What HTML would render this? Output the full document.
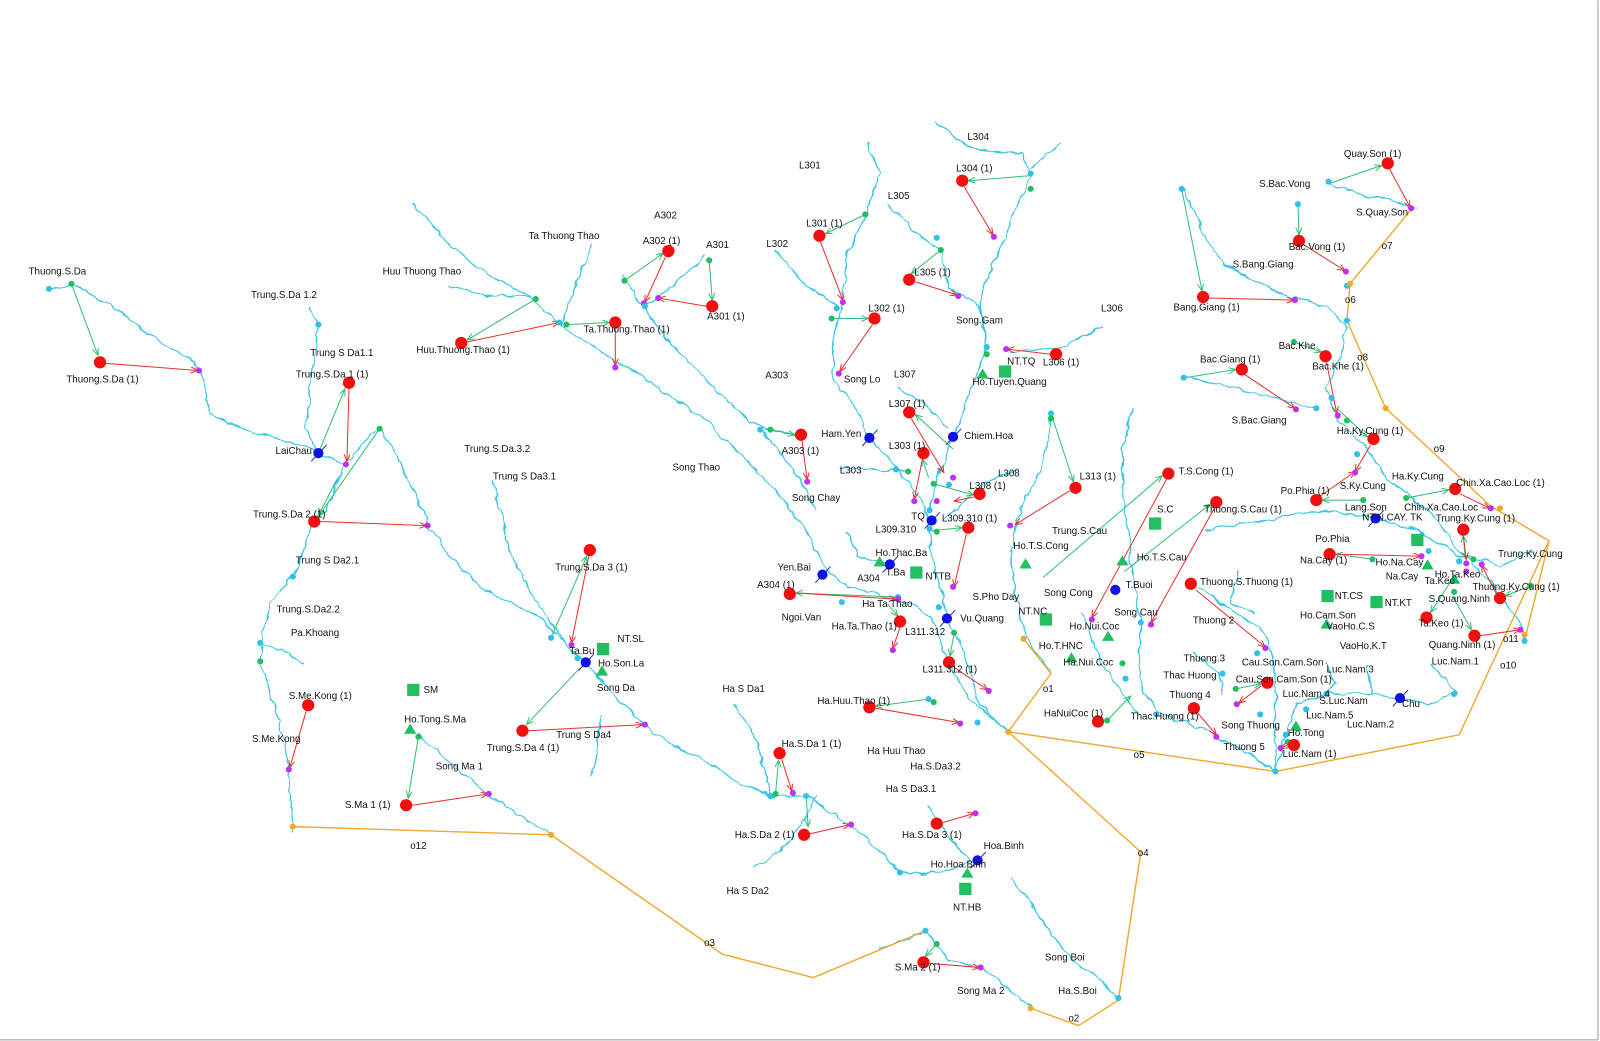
<!DOCTYPE html>
<html><head><meta charset="utf-8"><style>
html,body{margin:0;padding:0;background:#fff;width:1600px;height:1041px;overflow:hidden}
svg{display:block}
text{font-family:"Liberation Sans","DejaVu Sans",sans-serif;font-size:9.6px;fill:#111}
.rv{fill:none;stroke:#3cc6e4;stroke-width:1.3}
.or{fill:none;stroke:#f0a830;stroke-width:1.4}
.ra{stroke:#e83030;stroke-width:1;fill:none;marker-end:url(#mr)}
.ga{stroke:#30c070;stroke-width:1;fill:none;marker-end:url(#mg)}
.r{fill:#f01010}
.b{fill:#1010e8}
.p{fill:#c030f0}
.g{fill:#20c060}
.c{fill:#30c0e8}
.sq{fill:#20c060}
</style></head><body>
<svg width="1600" height="1041" viewBox="0 0 1568 1020" xmlns="http://www.w3.org/2000/svg">
<defs>
<marker id="mr" markerWidth="8" markerHeight="8" refX="7" refY="3" orient="auto"><path d="M0,0 L7,3 L0,6" fill="none" stroke="#e83030"/></marker>
<marker id="mg" markerWidth="8" markerHeight="8" refX="7" refY="3" orient="auto"><path d="M0,0 L7,3 L0,6" fill="none" stroke="#30c070"/></marker>
<filter id="wig" x="-5%" y="-5%" width="110%" height="110%"><feTurbulence type="fractalNoise" baseFrequency="0.09" numOctaves="2" seed="3"/><feDisplacementMap in="SourceGraphic" scale="7" xChannelSelector="R" yChannelSelector="G"/></filter>
</defs>
<line x1="1566" y1="0" x2="1566" y2="1019" stroke="#999"/>
<line x1="0" y1="1019" x2="1566" y2="1019" stroke="#999"/>

<!-- rivers -->
<g class="rv" filter="url(#wig)">
<polyline points="48,283 70,278 110,300 150,330 190,355 200,370 205,405 250,425 290,435 312,444 338,455 360,430 372,420 390,450 405,480 420,515 440,545 470,575 500,590 530,605 557,634 574,649 600,680 632,711 660,730 690,745 720,765 755,780 790,780 820,800 850,822 882,855 920,855 958,843"/>
<polyline points="304,300 312,320 305,370 300,420 312,444"/>
<polyline points="338,455 320,500 308,511 295,545 287,565 265,590 258,620 255,648 268,690 280,730 287,815"/>
<polyline points="255,630 280,640 298,650"/>
<polyline points="483,470 490,500 500,540 520,580 540,610 557,634"/>
<polyline points="590,700 585,730 580,760"/>
<polyline points="410,720 440,745 480,780 520,805 540,818"/>
<polyline points="405,200 440,240 480,270 520,290 550,320 590,345 630,370 690,410 720,440 760,480 790,520 810,560 830,575 870,585 900,595 912,605 930,650 950,685 988,717"/>
<polyline points="440,280 480,290 520,290"/>
<polyline points="580,240 560,290 550,320"/>
<polyline points="610,270 630,300 660,340 700,380 730,410 750,420 785,426"/>
<polyline points="690,250 660,280 632,300"/>
<polyline points="850,140 862,170 848,210 830,250 825,300 818,330 815,370 840,400 852,429 880,460 905,490 910,510 912,540 920,570 928,606 945,640 960,690 988,717"/>
<polyline points="760,245 790,280 820,300"/>
<polyline points="870,200 900,230 922,245 930,280 960,300 967,340"/>
<polyline points="917,120 950,145 1000,150 1010,170 990,220 960,290 967,340 945,400 934,428 918,470 910,500"/>
<polyline points="1040,140 1010,165"/>
<polyline points="1080,320 1040,340 990,345"/>
<polyline points="880,380 905,395 930,420"/>
<polyline points="823,458 860,460 890,462"/>
<polyline points="1000,460 970,470 945,490 925,510"/>
<polyline points="745,420 770,450 790,480 800,500"/>
<polyline points="1030,410 1020,460 1000,500 990,540 995,580 1005,625 1030,660"/>
<polyline points="1110,400 1100,440 1100,480 1105,520 1110,560 1118,610 1115,640 1120,680 1140,700 1180,715 1210,730 1250,756"/>
<polyline points="1060,600 1080,650 1100,680 1115,700"/>
<polyline points="1175,575 1210,600 1240,620 1250,660 1250,700 1250,756"/>
<polyline points="1430,678 1400,690 1372,684 1340,680 1300,680 1270,690 1260,720 1250,756"/>
<polyline points="1160,185 1180,230 1200,260 1260,290 1300,300 1320,320 1310,360 1300,380 1310,410 1340,440 1360,470 1400,500 1430,540 1460,570 1490,610 1494,628"/>
<polyline points="1300,178 1330,190 1360,195 1390,205"/>
<polyline points="1160,370 1210,380 1250,390 1290,400"/>
<polyline points="1180,520 1240,510 1300,500 1348,508 1390,520 1430,545 1460,550"/>
<polyline points="720,690 740,720 755,780"/>
<polyline points="740,850 770,830 790,800 800,780"/>
<polyline points="910,790 930,820 950,843"/>
<polyline points="990,860 1020,900 1050,940 1080,960 1096,980"/>
<polyline points="860,930 890,920 907,912 930,940 965,950 990,970 1010,987"/>
<polyline points="830,520 840,545 872,553"/>
<polyline points="1215,560 1205,590 1230,600"/>
<polyline points="1300,650 1310,670 1300,680"/>
<polyline points="1340,650 1345,680"/>
<polyline points="1170,640 1195,660 1198,680"/>
<polyline points="1400,650 1420,670 1430,678"/>
<polyline points="1500,540 1470,555 1460,550"/>
</g>

<!-- orange links -->
<g class="or">
<polyline points="287,810 540,818 708,935 797,958 907,912"/>
<polyline points="988,717 1118,835 1096,980 1057,1005 1010,988"/>
<polyline points="988,717 1030,660 1003,626"/>
<polyline points="988,717 1250,756 1430,720 1518,530 1461,496 1358,400 1320,314 1323,278 1383,205"/>
<polyline points="1494,628 1518,530"/>
</g>

<!-- arrows -->
<g>
<line class="ga" x1="70" y1="278" x2="96" y2="348"/><line class="ra" x1="104" y1="356" x2="194" y2="363"/>
<line class="ga" x1="312" y1="444" x2="338" y2="381"/><line class="ra" x1="342" y1="381" x2="340" y2="452"/>
<line class="ga" x1="372" y1="420" x2="312" y2="506"/><line class="ra" x1="314" y1="511" x2="418" y2="515"/>
<line class="ga" x1="525" y1="293" x2="458" y2="333"/><line class="ra" x1="458" y1="335" x2="548" y2="316"/>
<line class="ga" x1="555" y1="318" x2="597" y2="316"/><line class="ra" x1="603" y1="322" x2="603" y2="358"/>
<line class="ga" x1="612" y1="275" x2="650" y2="248"/><line class="ra" x1="652" y1="252" x2="632" y2="296"/>
<line class="ga" x1="695" y1="255" x2="698" y2="294"/><line class="ra" x1="692" y1="300" x2="645" y2="292"/>
<line class="ga" x1="848" y1="210" x2="809" y2="229"/><line class="ra" x1="804" y1="237" x2="826" y2="294"/>
<line class="ga" x1="1010" y1="172" x2="949" y2="177"/><line class="ra" x1="945" y1="183" x2="973" y2="230"/>
<line class="ga" x1="922" y1="245" x2="893" y2="268"/><line class="ra" x1="897" y1="276" x2="938" y2="289"/>
<line class="ga" x1="815" y1="312" x2="851" y2="312"/><line class="ra" x1="855" y1="318" x2="823" y2="364"/>
<line class="ra" x1="1029" y1="347" x2="987" y2="342"/>
<line class="ga" x1="755" y1="421" x2="779" y2="426"/><line class="ra" x1="786" y1="432" x2="791" y2="470"/>
<line class="ga" x1="934" y1="440" x2="897" y2="406"/><line class="ra" x1="893" y1="410" x2="925" y2="463"/>
<line class="ga" x1="910" y1="468" x2="904" y2="450"/><line class="ra" x1="904" y1="450" x2="896" y2="489"/>
<line class="ga" x1="915" y1="474" x2="954" y2="485"/><line class="ra" x1="954" y1="487" x2="935" y2="491"/>
<line class="ga" x1="913" y1="520" x2="943" y2="517"/><line class="ra" x1="947" y1="523" x2="935" y2="575"/>
<line class="ra" x1="1048" y1="481" x2="995" y2="514"/>
<line class="ga" x1="1030" y1="405" x2="1052" y2="472"/>
<line class="ga" x1="1022" y1="566" x2="1139" y2="466"/><line class="ra" x1="1143" y1="470" x2="1070" y2="605"/>
<line class="ga" x1="1102" y1="560" x2="1186" y2="494"/><line class="ra" x1="1190" y1="498" x2="1128" y2="610"/>
<line class="ga" x1="1158" y1="185" x2="1178" y2="285"/><line class="ra" x1="1185" y1="292" x2="1268" y2="294"/>
<line class="ga" x1="1302" y1="180" x2="1354" y2="162"/><line class="ra" x1="1362" y1="166" x2="1382" y2="203"/>
<line class="ga" x1="1272" y1="200" x2="1273" y2="230"/><line class="ra" x1="1278" y1="240" x2="1318" y2="265"/>
<line class="ga" x1="1162" y1="370" x2="1211" y2="362"/><line class="ra" x1="1220" y1="367" x2="1269" y2="400"/>
<line class="ga" x1="1268" y1="335" x2="1295" y2="345"/><line class="ra" x1="1300" y1="355" x2="1310" y2="405"/>
<line class="ga" x1="1310" y1="400" x2="1340" y2="428"/><line class="ra" x1="1343" y1="436" x2="1328" y2="462"/>
<line class="ga" x1="1336" y1="490" x2="1296" y2="490"/><line class="ra" x1="1294" y1="486" x2="1328" y2="462"/>
<line class="ga" x1="1378" y1="488" x2="1420" y2="480"/><line class="ra" x1="1431" y1="484" x2="1460" y2="498"/>
<line class="ga" x1="1436" y1="548" x2="1434" y2="525"/><line class="ra" x1="1434" y1="525" x2="1437" y2="548"/>
<line class="ga" x1="1345" y1="548" x2="1309" y2="543"/><line class="ra" x1="1309" y1="543" x2="1392" y2="545"/>
<line class="ga" x1="1500" y1="574" x2="1475" y2="584"/><line class="ra" x1="1466" y1="581" x2="1452" y2="554"/>
<line class="ga" x1="1425" y1="565" x2="1402" y2="600"/>
<line class="ga" x1="1424" y1="585" x2="1442" y2="617"/><line class="ra" x1="1450" y1="623" x2="1490" y2="617"/>
<line class="ra" x1="1172" y1="578" x2="1240" y2="634"/>
<line class="ga" x1="1211" y1="675" x2="1236" y2="670"/><line class="ra" x1="1236" y1="672" x2="1214" y2="689"/>
<line class="ga" x1="1085" y1="706" x2="1108" y2="682"/><line class="ra" x1="1174" y1="699" x2="1192" y2="720"/>
<line class="ga" x1="1262" y1="727" x2="1268" y2="735"/><line class="ra" x1="1262" y1="730" x2="1255" y2="733"/>
<line class="ga" x1="540" y1="625" x2="575" y2="545"/><line class="ra" x1="577" y1="545" x2="560" y2="630"/>
<line class="ga" x1="568" y1="655" x2="516" y2="710"/><line class="ra" x1="518" y1="716" x2="630" y2="710"/>
<line class="ga" x1="330" y1="470" x2="312" y2="505"/>
<line class="ra" x1="300" y1="697" x2="284" y2="752"/>
<line class="ga" x1="410" y1="722" x2="400" y2="782"/><line class="ra" x1="404" y1="789" x2="478" y2="778"/>
<line class="ga" x1="880" y1="585" x2="780" y2="581"/><line class="ra" x1="780" y1="581" x2="878" y2="587"/>
<line class="ga" x1="870" y1="592" x2="880" y2="604"/><line class="ra" x1="882" y1="615" x2="875" y2="635"/>
<line class="ga" x1="935" y1="620" x2="931" y2="643"/><line class="ra" x1="935" y1="654" x2="968" y2="676"/>
<line class="ga" x1="910" y1="685" x2="858" y2="692"/><line class="ra" x1="858" y1="694" x2="940" y2="708"/>
<line class="ga" x1="760" y1="778" x2="763" y2="745"/><line class="ra" x1="766" y1="744" x2="776" y2="775"/>
<line class="ga" x1="790" y1="780" x2="792" y2="810"/><line class="ra" x1="794" y1="817" x2="833" y2="808"/>
<line class="ra" x1="924" y1="806" x2="955" y2="797"/>
<line class="ga" x1="918" y1="925" x2="907" y2="937"/><line class="ra" x1="911" y1="944" x2="960" y2="948"/>
</g>

<!-- small dots -->
<g>
<circle class="c" cx="48" cy="283" r="3"/><circle class="g" cx="70" cy="278" r="3"/><circle class="p" cx="195" cy="363" r="3"/>
<circle class="c" cx="312" cy="318" r="3"/><circle class="g" cx="372" cy="420" r="3"/><circle class="p" cx="339" cy="455" r="3"/><circle class="p" cx="419" cy="515" r="3"/>
<circle class="g" cx="525" cy="293" r="3"/><circle class="c" cx="548" cy="316" r="3"/><circle class="g" cx="555" cy="318" r="3"/><circle class="p" cx="603" cy="360" r="3"/>
<circle class="g" cx="612" cy="275" r="3"/><circle class="p" cx="631" cy="297" r="3"/><circle class="p" cx="645" cy="292" r="3"/><circle class="g" cx="695" cy="255" r="3"/><circle class="c" cx="632" cy="300" r="3"/>
<circle class="g" cx="848" cy="210" r="3"/><circle class="p" cx="826" cy="296" r="3"/><circle class="c" cx="820" cy="302" r="3"/><circle class="g" cx="815" cy="312" r="3"/><circle class="p" cx="822" cy="366" r="3"/>
<circle class="c" cx="1010" cy="170" r="3"/><circle class="g" cx="1010" cy="185" r="3"/><circle class="p" cx="974" cy="232" r="3"/><circle class="c" cx="918" cy="233" r="3"/><circle class="g" cx="922" cy="245" r="3"/><circle class="p" cx="939" cy="290" r="3"/>
<circle class="c" cx="967" cy="340" r="3"/><circle class="p" cx="986" cy="342" r="3"/><circle class="g" cx="967" cy="347" r="3"/>
<circle class="c" cx="745" cy="421" r="3"/><circle class="g" cx="755" cy="421" r="3"/><circle class="p" cx="791" cy="472" r="3"/>
<circle class="c" cx="878" cy="460" r="3"/><circle class="g" cx="890" cy="462" r="3"/><circle class="p" cx="896" cy="491" r="3"/><circle class="p" cx="934" cy="468" r="3"/><circle class="c" cx="930" cy="475" r="3"/><circle class="g" cx="915" cy="474" r="3"/><circle class="p" cx="918" cy="491" r="3"/><circle class="c" cx="911" cy="500" r="3"/><circle class="c" cx="911" cy="518" r="3"/><circle class="g" cx="918" cy="521" r="3"/>
<circle class="p" cx="990" cy="515" r="3"/><circle class="c" cx="1030" cy="405" r="3"/><circle class="g" cx="1030" cy="410" r="3"/>
<circle class="p" cx="934" cy="575" r="3"/><circle class="c" cx="920" cy="595" r="3"/><circle class="c" cx="880" cy="585" r="3"/><circle class="p" cx="880" cy="587" r="3"/><circle class="c" cx="825" cy="590" r="3"/>
<circle class="p" cx="875" cy="637" r="3"/><circle class="g" cx="935" cy="620" r="3"/><circle class="p" cx="969" cy="677" r="3"/><circle class="c" cx="910" cy="685" r="3"/><circle class="g" cx="915" cy="688" r="3"/><circle class="p" cx="941" cy="709" r="3"/><circle class="c" cx="958" cy="708" r="3"/>
<circle class="p" cx="1070" cy="607" r="3"/><circle class="p" cx="1128" cy="612" r="3"/><circle class="c" cx="1118" cy="610" r="3"/><circle class="g" cx="1100" cy="650" r="3"/><circle class="c" cx="1103" cy="665" r="3"/>
<circle class="c" cx="1158" cy="185" r="3"/><circle class="p" cx="1269" cy="294" r="3"/><circle class="c" cx="1320" cy="314" r="3"/><circle class="c" cx="1302" cy="178" r="3"/><circle class="p" cx="1383" cy="204" r="3"/><circle class="c" cx="1272" cy="200" r="3"/><circle class="p" cx="1319" cy="266" r="3"/><circle class="c" cx="1320" cy="280" r="3"/>
<circle class="c" cx="1160" cy="370" r="3"/><circle class="p" cx="1270" cy="401" r="3"/><circle class="c" cx="1290" cy="400" r="3"/><circle class="g" cx="1268" cy="335" r="3"/><circle class="p" cx="1311" cy="407" r="3"/><circle class="c" cx="1305" cy="390" r="3"/><circle class="g" cx="1320" cy="412" r="3"/><circle class="c" cx="1330" cy="445" r="3"/><circle class="p" cx="1328" cy="463" r="3"/><circle class="g" cx="1336" cy="490" r="3"/>
<circle class="g" cx="1378" cy="488" r="3"/><circle class="p" cx="1461" cy="498" r="3"/><circle class="p" cx="1393" cy="545" r="3"/><circle class="c" cx="1400" cy="540" r="3"/><circle class="p" cx="1437" cy="552" r="3"/><circle class="c" cx="1430" cy="550" r="3"/><circle class="g" cx="1444" cy="548" r="3"/><circle class="p" cx="1452" cy="553" r="3"/><circle class="p" cx="1437" cy="560" r="3"/><circle class="g" cx="1425" cy="580" r="3"/><circle class="p" cx="1490" cy="617" r="3"/><circle class="c" cx="1494" cy="628" r="3"/><circle class="g" cx="1345" cy="548" r="3"/><circle class="g" cx="1500" cy="574" r="3"/>
<circle class="p" cx="1240" cy="635" r="3"/><circle class="c" cx="1232" cy="640" r="3"/><circle class="c" cx="1198" cy="660" r="3"/><circle class="g" cx="1211" cy="675" r="3"/><circle class="p" cx="1212" cy="690" r="3"/><circle class="c" cx="1235" cy="700" r="3"/><circle class="c" cx="1133" cy="700" r="3"/><circle class="g" cx="1085" cy="706" r="3"/><circle class="p" cx="1192" cy="722" r="3"/>
<circle class="c" cx="1300" cy="680" r="3"/><circle class="c" cx="1280" cy="695" r="3"/><circle class="c" cx="1425" cy="680" r="3"/><circle class="c" cx="1260" cy="720" r="3"/><circle class="p" cx="1255" cy="733" r="3"/><circle class="g" cx="1262" cy="727" r="3"/>
<circle class="c" cx="540" cy="625" r="3"/><circle class="p" cx="560" cy="632" r="3"/><circle class="c" cx="566" cy="645" r="3"/><circle class="p" cx="632" cy="710" r="3"/>
<circle class="c" cx="287" cy="565" r="3"/><circle class="c" cx="255" cy="630" r="3"/><circle class="g" cx="255" cy="648" r="3"/><circle class="p" cx="283" cy="754" r="3"/>
<circle class="g" cx="410" cy="722" r="3"/><circle class="p" cx="479" cy="778" r="3"/>
<circle class="c" cx="755" cy="780" r="3"/><circle class="g" cx="760" cy="778" r="3"/><circle class="p" cx="777" cy="777" r="3"/><circle class="c" cx="790" cy="780" r="3"/><circle class="p" cx="834" cy="808" r="3"/><circle class="p" cx="956" cy="797" r="3"/>
<circle class="c" cx="882" cy="855" r="3"/><circle class="c" cx="907" cy="912" r="3"/><circle class="g" cx="918" cy="925" r="3"/><circle class="p" cx="961" cy="948" r="3"/>
<circle class="c" cx="1096" cy="978" r="3"/><circle fill="#f0a830" cx="1010" cy="988" r="3"/><circle fill="#f0a830" cx="988" cy="717" r="3"/><circle fill="#f0a830" cx="1003" cy="626" r="3"/><circle fill="#f0a830" cx="287" cy="810" r="3"/><circle fill="#f0a830" cx="540" cy="818" r="3"/><circle fill="#f0a830" cx="1358" cy="400" r="3"/><circle fill="#f0a830" cx="1323" cy="278" r="3"/><circle fill="#f0a830" cx="1470" cy="498" r="3"/><circle fill="#f0a830" cx="1494" cy="622" r="3"/>
<circle class="c" cx="1250" cy="756" r="3"/>
</g>

<!-- squares -->
<g class="sq">
<rect x="585" y="630" width="12" height="12"/><rect x="399" y="670" width="12" height="12"/><rect x="979" y="358" width="12" height="12"/>
<rect x="892" y="555" width="12" height="12"/><rect x="1126" y="507" width="12" height="12"/><rect x="1019" y="601" width="12" height="12"/>
<rect x="1295" y="578" width="12" height="12"/><rect x="1343" y="584" width="12" height="12"/><rect x="1383" y="523" width="12" height="12"/><rect x="940" y="865" width="12" height="12"/>
</g>
<!-- triangles -->
<g fill="#20c060">
<path d="M402,709 l6,10 h-12z"/><path d="M590,652 l6,10 h-12z"/><path d="M963,361 l6,10 h-12z"/><path d="M862,545 l6,10 h-12z"/>
<path d="M1005,547 l6,10 h-12z"/><path d="M1100,544 l6,10 h-12z"/><path d="M1086,618 l6,10 h-12z"/><path d="M1050,639 l6,10 h-12z"/>
<path d="M1300,606 l6,10 h-12z"/><path d="M1270,706 l6,10 h-12z"/><path d="M948,850 l6,10 h-12z"/><path d="M1399,548 l6,10 h-12z"/><path d="M1425,562 l6,10 h-12z"/>
</g>

<!-- red nodes -->
<g class="r">
<circle cx="98" cy="355" r="6"/><circle cx="342" cy="375" r="6"/><circle cx="308" cy="511" r="6"/><circle cx="452" cy="336" r="6"/>
<circle cx="603" cy="316" r="6"/><circle cx="655" cy="246" r="6"/><circle cx="698" cy="300" r="6"/><circle cx="803" cy="231" r="6"/>
<circle cx="857" cy="312" r="6"/><circle cx="943" cy="177" r="6"/><circle cx="891" cy="274" r="6"/><circle cx="1035" cy="347" r="6"/>
<circle cx="785" cy="426" r="6"/><circle cx="891" cy="404" r="6"/><circle cx="905" cy="444" r="6"/><circle cx="960" cy="484" r="6"/>
<circle cx="949" cy="517" r="6"/><circle cx="1054" cy="478" r="6"/><circle cx="1145" cy="464" r="6"/><circle cx="1192" cy="492" r="6"/>
<circle cx="1179" cy="291" r="6"/><circle cx="1360" cy="160" r="6"/><circle cx="1273" cy="236" r="6"/><circle cx="1217" cy="362" r="6"/>
<circle cx="1299" cy="349" r="6"/><circle cx="1346" cy="430" r="6"/><circle cx="1290" cy="490" r="6"/><circle cx="1426" cy="479" r="6"/>
<circle cx="1434" cy="519" r="6"/><circle cx="1303" cy="543" r="6"/><circle cx="1470" cy="586" r="6"/><circle cx="1398" cy="605" r="6"/>
<circle cx="1445" cy="623" r="6"/><circle cx="1167" cy="572" r="6"/><circle cx="1242" cy="669" r="6"/><circle cx="1170" cy="694" r="6"/>
<circle cx="1268" cy="730" r="6"/><circle cx="1076" cy="707" r="6"/><circle cx="578" cy="539" r="6"/><circle cx="774" cy="582" r="6"/>
<circle cx="882" cy="609" r="6"/><circle cx="930" cy="649" r="6"/><circle cx="852" cy="693" r="6"/><circle cx="512" cy="716" r="6"/>
<circle cx="302" cy="691" r="6"/><circle cx="398" cy="789" r="6"/><circle cx="764" cy="738" r="6"/><circle cx="788" cy="818" r="6"/>
<circle cx="918" cy="807" r="6"/><circle cx="905" cy="943" r="6"/>
</g>
<!-- blue nodes -->
<g stroke="#2030c0" stroke-width="1">
<line x1="305" y1="452" x2="320" y2="436"/><line x1="567" y1="657" x2="582" y2="641"/><line x1="845" y1="437" x2="860" y2="421"/>
<line x1="927" y1="436" x2="942" y2="420"/><line x1="906" y1="518" x2="921" y2="502"/><line x1="865" y1="561" x2="880" y2="545"/>
<line x1="799" y1="571" x2="814" y2="555"/><line x1="921" y1="614" x2="936" y2="598"/><line x1="1341" y1="516" x2="1356" y2="500"/>
<line x1="1365" y1="692" x2="1380" y2="676"/><line x1="951" y1="851" x2="966" y2="835"/>
</g>
<g class="b">
<circle cx="312" cy="444" r="5"/><circle cx="574" cy="649" r="5"/><circle cx="852" cy="429" r="5"/><circle cx="934" cy="428" r="5"/>
<circle cx="913" cy="510" r="5"/><circle cx="872" cy="553" r="5"/><circle cx="806" cy="563" r="5"/><circle cx="928" cy="606" r="5"/>
<circle cx="1093" cy="578" r="5"/><circle cx="1348" cy="508" r="5"/><circle cx="1372" cy="684" r="5"/><circle cx="958" cy="843" r="5"/>
</g>

<!-- labels -->
<g>
<text x="65" y="375">Thuong.S.Da (1)</text><text x="290" y="370">Trung.S.Da 1 (1)</text><text x="248" y="507">Trung.S.Da 2 (1)</text>
<text x="408" y="346">Huu.Thuong.Thao (1)</text><text x="572" y="326">Ta.Thuong.Thao (1)</text><text x="630" y="239">A302 (1)</text>
<text x="693" y="313">A301 (1)</text><text x="790" y="222">L301 (1)</text><text x="851" y="305">L302 (1)</text><text x="937" y="168">L304 (1)</text>
<text x="896" y="270">L305 (1)</text><text x="1022" y="358">L306 (1)</text><text x="766" y="445">A303 (1)</text><text x="871" y="399">L307 (1)</text>
<text x="871" y="440">L303 (1)</text><text x="950" y="479">L308 (1)</text><text x="923" y="511">L309.310 (1)</text><text x="1058" y="470">L313 (1)</text>
<text x="1155" y="465">T.S.Cong (1)</text><text x="1180" y="502">Thuong.S.Cau (1)</text><text x="1150" y="304">Bang.Giang (1)</text>
<text x="1317" y="154">Quay.Son (1)</text><text x="1263" y="245">Bac.Vong (1)</text><text x="1176" y="355">Bac.Giang (1)</text><text x="1286" y="362">Bac.Khe (1)</text>
<text x="1310" y="425">Ha.Ky.Cung (1)</text><text x="1255" y="484">Po.Phia (1)</text><text x="1427" y="476">Chin.Xa.Cao.Loc (1)</text>
<text x="1407" y="511">Trung.Ky.Cung (1)</text><text x="1274" y="552">Na.Cay (1)</text><text x="1443" y="578">Thuong.Ky.Cung (1)</text>
<text x="1390" y="614">Ta.Keo (1)</text><text x="1400" y="635">Quang.Ninh (1)</text><text x="1176" y="573">Thuong.S.Thuong (1)</text>
<text x="1211" y="669">Cau.Son.Cam.Son (1)</text><text x="1108" y="705">Thac.Huong (1)</text><text x="1257" y="742">Luc.Nam (1)</text>
<text x="1023" y="702">HaNuiCoc (1)</text><text x="544" y="559">Trung.S.Da 3 (1)</text><text x="742" y="576">A304 (1)</text>
<text x="815" y="617">Ha.Ta.Thao (1)</text><text x="904" y="659">L311.312 (1)</text><text x="801" y="690">Ha.Huu.Thao (1)</text>
<text x="477" y="736">Trung.S.Da 4 (1)</text><text x="283" y="685">S.Me.Kong (1)</text><text x="338" y="792">S.Ma 1 (1)</text>
<text x="766" y="732">Ha.S.Da 1 (1)</text><text x="720" y="821">Ha.S.Da 2 (1)</text><text x="884" y="821">Ha.S.Da 3 (1)</text><text x="877" y="951">S.Ma 2 (1)</text>

<text x="28" y="269">Thuong.S.Da</text><text x="246" y="292">Trung.S.Da 1.2</text><text x="304" y="349">Trung S Da1.1</text><text x="270" y="445">LaiChau</text>
<text x="455" y="443">Trung.S.Da.3.2</text><text x="483" y="470">Trung S Da3.1</text><text x="290" y="552">Trung S Da2.1</text><text x="271" y="600">Trung.S.Da2.2</text>
<text x="285" y="623">Pa.Khoang</text><text x="247" y="727">S.Me.Kong</text><text x="396" y="708">Ho.Tong.S.Ma</text><text x="427" y="754">Song Ma 1</text>
<text x="402" y="832">o12</text><text x="375" y="269">Huu Thuong Thao</text><text x="518" y="234">Ta Thuong Thao</text><text x="641" y="214">A302</text>
<text x="692" y="243">A301</text><text x="783" y="165">L301</text><text x="751" y="242">L302</text><text x="870" y="195">L305</text><text x="948" y="137">L304</text>
<text x="1079" y="305">L306</text><text x="937" y="317">Song.Gam</text><text x="987" y="357">NT.TQ</text><text x="953" y="377">Ho.Tuyen.Quang</text>
<text x="827" y="375">Song Lo</text><text x="750" y="371">A303</text><text x="876" y="370">L307</text><text x="805" y="428">Ham.Yen</text>
<text x="945" y="430">Chiem.Hoa</text><text x="823" y="464">L303</text><text x="978" y="467">L308</text><text x="776" y="491">Song Chay</text>
<text x="659" y="461">Song Thao</text><text x="858" y="522">L309.310</text><text x="893" y="509">TQ</text><text x="858" y="545">Ho.Thac.Ba</text>
<text x="868" y="564">T.Ba</text><text x="840" y="570">A304</text><text x="907" y="568">NTTB</text><text x="762" y="559">Yen.Bai</text>
<text x="845" y="595">Ha Ta Thao</text><text x="766" y="608">Ngoi.Van</text><text x="887" y="622">L311.312</text><text x="941" y="609">Vu.Quang</text>
<text x="953" y="588">S.Pho Day</text><text x="998" y="602">NT.NC</text><text x="993" y="538">Ho.T.S.Cong</text><text x="1023" y="584">Song Cong</text>
<text x="1031" y="523">Trung.S.Cau</text><text x="1134" y="502">S.C</text><text x="1114" y="549">Ho.T.S.Cau</text><text x="1103" y="576">T.Buoi</text>
<text x="1092" y="603">Song Cau</text><text x="1048" y="617">Ho.Nui.Coc</text><text x="1018" y="636">Ho.T.HNC</text><text x="1042" y="652">Ha.Nui.Coc</text>
<text x="1022" y="678">o1</text><text x="1140" y="665">Thac Huong</text><text x="1160" y="648">Thuong.3</text><text x="1169" y="611">Thuong 2</text>
<text x="1146" y="684">Thuong 4</text><text x="1197" y="714">Song Thuong</text><text x="1199" y="735">Thuong 5</text><text x="1217" y="652">Cau.Son.Cam.Son</text>
<text x="1308" y="587">NT.CS</text><text x="1357" y="594">NT.KT</text><text x="1274" y="606">Ho.Cam.Son</text><text x="1300" y="617">VaoHo.C.S</text>
<text x="1313" y="636">VaoHo.K.T</text><text x="1300" y="659">Luc.Nam.3</text><text x="1257" y="683">Luc.Nam.4</text><text x="1293" y="690">S.Luc.Nam</text>
<text x="1280" y="704">Luc.Nam.5</text><text x="1320" y="713">Luc.Nam.2</text><text x="1403" y="651">Luc.Nam.1</text><text x="1374" y="693">Chu</text>
<text x="1262" y="721">Ho.Tong</text><text x="1111" y="743">o5</text><text x="1470" y="655">o10</text><text x="1473" y="629">o11</text>
<text x="1289" y="531">Po.Phia</text><text x="1318" y="500">Lang.Son</text><text x="1358" y="568">Na.Cay</text><text x="1348" y="554">Ho.Na.Cay</text>
<text x="1396" y="572">Ta.Keo</text><text x="1400" y="590">S.Quang.Ninh</text><text x="1468" y="546">Trung.Ky.Cung</text><text x="1376" y="500">Chin.Xa.Cao.Loc</text>
<text x="1364" y="470">Ha.Ky.Cung</text><text x="1313" y="479">S.Ky.Cung</text><text x="1335" y="510">NT.N.CAY. TK</text><text x="1406" y="566">Ho.Ta.Keo</text>
<text x="1405" y="443">o9</text><text x="1330" y="353">o8</text><text x="1354" y="244">o7</text><text x="1318" y="297">o6</text>
<text x="1329" y="211">S.Quay.Son</text><text x="1234" y="183">S.Bac.Vong</text><text x="1208" y="262">S.Bang.Giang</text><text x="1253" y="342">Bac.Khe</text>
<text x="1207" y="415">S.Bac.Giang</text><text x="708" y="678">Ha S Da1</text><text x="850" y="739">Ha Huu Thao</text><text x="892" y="754">Ha.S.Da3.2</text>
<text x="868" y="776">Ha S Da3.1</text><text x="964" y="832">Hoa.Binh</text><text x="912" y="850">Ho.Hoa.Binh</text><text x="934" y="892">NT.HB</text>
<text x="712" y="876">Ha S Da2</text><text x="690" y="927">o3</text><text x="938" y="974">Song Ma 2</text><text x="1024" y="941">Song Boi</text>
<text x="1037" y="974">Ha.S.Boi</text><text x="1047" y="1001">o2</text><text x="1115" y="839">o4</text><text x="545" y="723">Trung S Da4</text>
<text x="585" y="677">Song Da</text><text x="605" y="629">NT.SL</text><text x="558" y="641">Ta.Bu</text><text x="586" y="653">Ho.Son.La</text><text x="415" y="679">SM</text>
</g>
</svg>
</body></html>
